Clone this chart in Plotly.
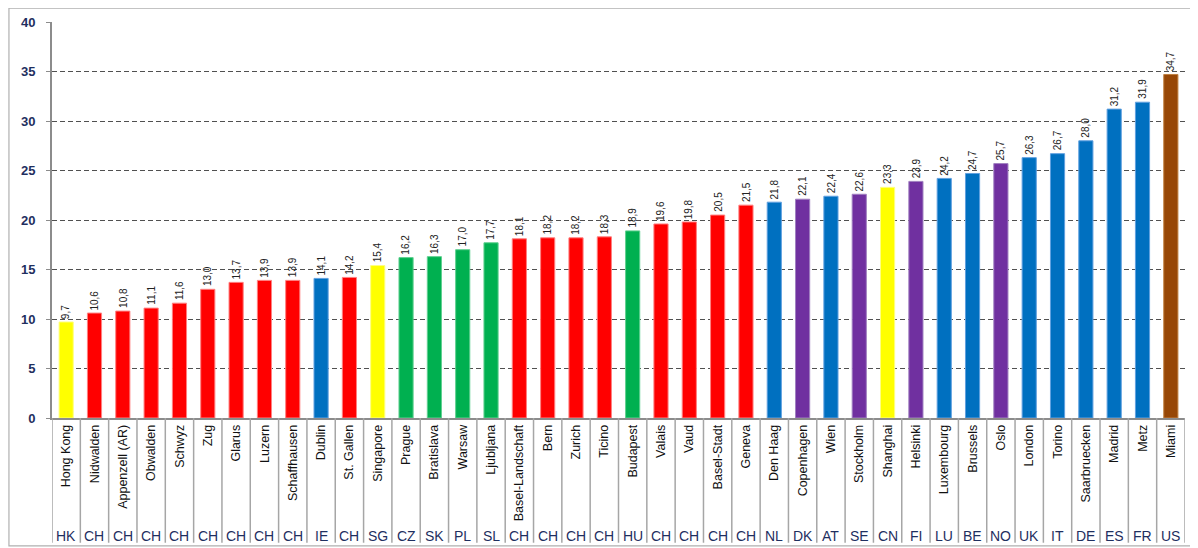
import plotly.graph_objects as go

cities = ["Hong Kong", "Nidwalden", "Appenzell (AR)", "Obwalden", "Schwyz", "Zug", "Glarus",
          "Luzern", "Schaffhausen", "Dublin", "St. Gallen", "Singapore", "Prague", "Bratislava",
          "Warsaw", "Ljubljana", "Basel-Landschaft", "Bern", "Zurich", "Ticino", "Budapest",
          "Valais", "Vaud", "Basel-Stadt", "Geneva", "Den Haag", "Copenhagen", "Wien",
          "Stockholm", "Shanghai", "Helsinki", "Luxembourg", "Brussels", "Oslo", "London",
          "Torino", "Saarbruecken", "Madrid", "Metz", "Miami"]
codes = ["HK", "CH", "CH", "CH", "CH", "CH", "CH", "CH", "CH", "IE", "CH", "SG", "CZ", "SK",
         "PL", "SL", "CH", "CH", "CH", "CH", "HU", "CH", "CH", "CH", "CH", "NL", "DK", "AT",
         "SE", "CN", "FI", "LU", "BE", "NO", "UK", "IT", "DE", "ES", "FR", "US"]
values = [9.7, 10.6, 10.8, 11.1, 11.6, 13.0, 13.7, 13.9, 13.9, 14.1, 14.2, 15.4, 16.2, 16.3,
          17.0, 17.7, 18.1, 18.2, 18.2, 18.3, 18.9, 19.6, 19.8, 20.5, 21.5, 21.8, 22.1, 22.4,
          22.6, 23.3, 23.9, 24.2, 24.7, 25.7, 26.3, 26.7, 28.0, 31.2, 31.9, 34.7]
groups = ["yellow", "red", "red", "red", "red", "red", "red", "red", "red", "blue", "red",
          "yellow", "green", "green", "green", "green", "red", "red", "red", "red", "green",
          "red", "red", "red", "red", "blue", "purple", "blue", "purple", "yellow", "purple",
          "blue", "blue", "purple", "blue", "blue", "blue", "blue", "blue", "brown"]
y_ticks = [0, 5, 10, 15, 20, 25, 30, 35, 40]

palette = {"yellow": "#FFFF00", "red": "#FF0000", "blue": "#0070C0",
           "green": "#00B050", "purple": "#7030A0", "brown": "#974706"}
edge = {"yellow": "#FFFF80", "red": "#FF8080", "blue": "#60A0E0",
        "green": "#60D090", "purple": "#A080C0", "brown": "#C08040"}

n = len(cities)
xs = list(range(n))

fig = go.Figure()
fig.add_trace(go.Bar(
    x=xs, y=values, width=0.5,
    marker=dict(color=[palette[g] for g in groups],
                line=dict(color=[edge[g] for g in groups], width=1)),
    cliponaxis=False, hoverinfo="x+y",
))

shapes = []
line_col = "#A6A6A6"
for i in range(n + 1):
    shapes.append(dict(type="line", xref="x", yref="paper", x0=i - 0.5, x1=i - 0.5,
                       y0=0, y1=-0.315, line=dict(color=line_col, width=1.5), layer="above"))
# outer frame
shapes.append(dict(type="rect", xref="paper", yref="paper", x0=-0.038, x1=1.0095,
                   y0=-0.323, y1=1.035, line=dict(color="#B0B0B0", width=1.2), layer="below"))

annotations = []
for i, v in enumerate(values):
    annotations.append(dict(x=i, y=v, xref="x", yref="y", text=f"{v:.1f}".replace(".", ","),
                            showarrow=False, textangle=-90, xanchor="center", yanchor="bottom",
                            yshift=1,
                            font=dict(family="Liberation Sans, Arial", size=10, color="#222222")))
for i, c in enumerate(codes):
    annotations.append(dict(x=i, y=-0.297, xref="x", yref="paper", text=c, showarrow=False,
                            xanchor="center", yanchor="middle",
                            font=dict(family="Liberation Sans, Arial", size=14, color="#1F2F5F")))

fig.update_layout(
    width=1198, height=548,
    margin=dict(l=44, r=21, t=14, b=138),
    paper_bgcolor="white", plot_bgcolor="white",
    showlegend=False,
    shapes=shapes, annotations=annotations,
    xaxis=dict(range=[-0.5, n - 0.5], tickmode="array", tickvals=xs, ticktext=cities,
               tickangle=-90, tickfont=dict(family="Liberation Sans, Arial", size=12.5, color="#111111"),
               showgrid=False, showline=True, linecolor="#8C8C8C", linewidth=1.5,
               ticks="", zeroline=False, fixedrange=True, automargin=False),
    yaxis=dict(range=[0, 40], tickmode="array", tickvals=y_ticks,
               ticktext=[str(t) for t in y_ticks],
               tickfont=dict(family="Liberation Sans, Arial", size=13, color="#1F2F5F", weight="bold"),
               showgrid=True, gridcolor="#505050", griddash="5px,3px", gridwidth=1,
               showline=True, linecolor="#8C8C8C", linewidth=2,
               ticks="outside", ticklen=4, tickcolor="#8C8C8C", ticklabelstandoff=8,
               zeroline=False, fixedrange=True, automargin=False),
)

fig.write_html("out.html")
